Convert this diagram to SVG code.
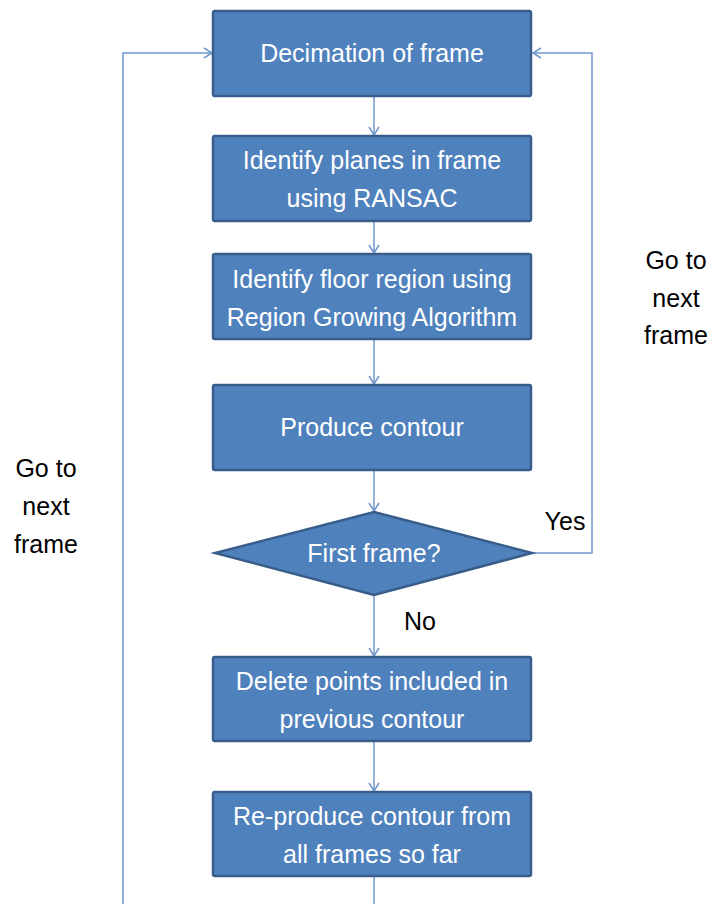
<svg xmlns="http://www.w3.org/2000/svg" width="710" height="904" viewBox="0 0 710 904">
<style>
.box{fill:#4F81BD;stroke:#385D8A;stroke-width:2.5}
.t{font-family:"Liberation Sans",Arial,sans-serif;font-size:25px;fill:#fff;text-anchor:middle}
.l{font-family:"Liberation Sans",Arial,sans-serif;font-size:25px;fill:#000;text-anchor:middle}
.c{fill:none;stroke:#7097CD;stroke-width:1.5}
</style>
<defs>
<marker id="a" markerWidth="12" markerHeight="12" refX="10" refY="6" orient="auto" markerUnits="userSpaceOnUse">
<polyline points="2,1 10,6 2,11" fill="none" stroke="#7097CD" stroke-width="1.5"/>
</marker>
</defs>
<g id="connectors">
<line class="c" x1="374" y1="96" x2="374" y2="135" marker-end="url(#a)"/>
<line class="c" x1="374" y1="221" x2="374" y2="253" marker-end="url(#a)"/>
<line class="c" x1="374" y1="339" x2="374" y2="384" marker-end="url(#a)"/>
<line class="c" x1="374" y1="470" x2="374" y2="511" marker-end="url(#a)"/>
<line class="c" x1="374" y1="595" x2="374" y2="656" marker-end="url(#a)"/>
<line class="c" x1="374" y1="741" x2="374" y2="791" marker-end="url(#a)"/>
<line class="c" x1="374" y1="876" x2="374" y2="904"/>
<polyline class="c" points="532,553 592,553 592,53 533,53" marker-end="url(#a)"/>
<polyline class="c" points="123,904 123,53 212,53" marker-end="url(#a)"/>
</g>
<g id="n1"><rect class="box" x="213" y="11" width="318" height="85" rx="2"/><text class="t" x="372" y="62">Decimation of frame</text></g>
<g id="n2"><rect class="box" x="213" y="136" width="318" height="85" rx="2"/><text class="t" x="372" y="169">Identify planes in frame</text><text class="t" x="372" y="207">using RANSAC</text></g>
<g id="n3"><rect class="box" x="213" y="254" width="318" height="85" rx="2"/><text class="t" x="372" y="288">Identify floor region using</text><text class="t" x="372" y="326">Region Growing Algorithm</text></g>
<g id="n4"><rect class="box" x="213" y="385" width="318" height="85" rx="2"/><text class="t" x="372" y="436">Produce contour</text></g>
<g id="n5"><polygon class="box" points="374,512 532,553 374,595 215,553"/><text class="t" x="374" y="562">First frame?</text></g>
<g id="n6"><rect class="box" x="213" y="657" width="318" height="84" rx="2"/><text class="t" x="372" y="690">Delete points included in</text><text class="t" x="372" y="728">previous contour</text></g>
<g id="n7"><rect class="box" x="213" y="792" width="318" height="84" rx="2"/><text class="t" x="372" y="825">Re-produce contour from</text><text class="t" x="372" y="863">all frames so far</text></g>
<g id="labels">
<text class="l" x="676" y="269">Go to</text><text class="l" x="676" y="307">next</text><text class="l" x="676" y="344">frame</text>
<text class="l" x="46" y="477">Go to</text><text class="l" x="46" y="515">next</text><text class="l" x="46" y="553">frame</text>
<text class="l" x="565" y="530">Yes</text>
<text class="l" x="420" y="630">No</text>
</g>
</svg>
